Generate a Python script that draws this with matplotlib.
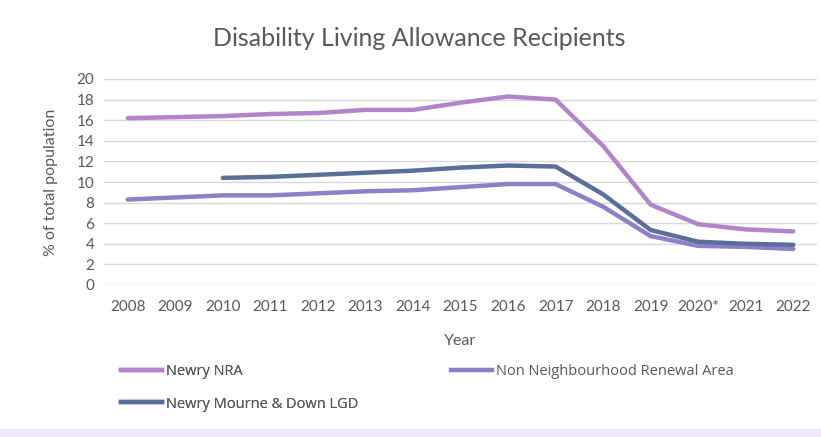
import matplotlib
matplotlib.use("Agg")
import matplotlib.pyplot as plt
from matplotlib.patches import Rectangle
from matplotlib.lines import Line2D
import numpy as np

years = ["2008", "2009", "2010", "2011", "2012", "2013", "2014", "2015",
         "2016", "2017", "2018", "2019", "2020*", "2021", "2022"]
newry_nra = [16.2, 16.3, 16.4, 16.6, 16.7, 17.0, 17.0, 17.7, 18.3, 18.0, 13.5, 7.8, 5.9, 5.4, 5.2]
non_nra = [8.3, 8.5, 8.7, 8.7, 8.9, 9.1, 9.2, 9.5, 9.8, 9.8, 7.6, 4.75, 3.8, 3.7, 3.5]
lgd = [None, None, 10.4, 10.5, 10.7, 10.9, 11.1, 11.4, 11.6, 11.5, 8.8, 5.34, 4.2, 4.0, 3.9]

series_names = ["Newry NRA", "Non Neighbourhood Renewal Area", "Newry Mourne & Down LGD"]
colors = ["#B085C9", "#8A81C9", "#596E98"]

plt.rcParams['font.family'] = ['Lato', 'DejaVu Sans']
text_color = "#595959"

fig = plt.figure(figsize=(8.21, 4.37), dpi=100)
ax = fig.add_axes([104/821, 1-285/437, (817-104)/821, (285-79)/437])

x = np.arange(len(years))
lgd_arr = np.array([np.nan if v is None else v for v in lgd], dtype=float)

ax.plot(x, newry_nra, color=colors[0], lw=3.2, solid_capstyle='round', zorder=3)
ax.plot(x, non_nra, color=colors[1], lw=3.2, solid_capstyle='round', zorder=3)
ax.plot(x, lgd_arr, color=colors[2], lw=3.2, solid_capstyle='round', zorder=4)

ax.set_xlim(-0.5, len(years) - 0.5)
ax.set_ylim(0, 20)
ax.set_yticks(np.arange(0, 21, 2))
ax.set_xticks(x)
ax.set_xticklabels(years)
ax.grid(axis='y', color="#D9D9D9", lw=1.0, zorder=0)
ax.set_axisbelow(True)
for s in ax.spines.values():
    s.set_visible(False)
ax.tick_params(axis='both', length=0, colors=text_color, labelsize=11)
ax.tick_params(axis='x', pad=11)
ax.tick_params(axis='y', pad=7)

ax.set_ylabel("% of total population", fontsize=11.5, color=text_color, labelpad=13)
ax.set_xlabel("Year", fontsize=11.5, color=text_color, labelpad=14)

fig.text(419/821, 1-39/437, "Disability Living Allowance Recipients", ha='center', va='center',
         fontsize=18, color=text_color, fontweight='normal')

legend_family = ['Open Sans', 'DejaVu Sans']

def make_legend(hs, ls, xpix, ypix):
    leg = fig.legend(hs, ls, loc='upper left', bbox_to_anchor=(xpix/821, 1-ypix/437),
                     frameon=False, prop={'family': legend_family, 'size': 10.5},
                     labelcolor=text_color, handlelength=2.8,
                     handletextpad=0.27, labelspacing=1.2, borderaxespad=0, borderpad=0)
    return leg

leg1 = make_legend([Line2D([], [], color=colors[0], lw=3.2),
                    Line2D([], [], color=colors[2], lw=3.2)],
                   [series_names[0], series_names[2]], 121, 364)
fig.add_artist(leg1)
make_legend([Line2D([], [], color=colors[1], lw=3.2)], [series_names[1]], 451, 364)

fig.patches.append(Rectangle((0, 0), 1, 8/437, transform=fig.transFigure,
                             color="#EEE8F8", zorder=-1))

fig.savefig("out.png", dpi=100)
